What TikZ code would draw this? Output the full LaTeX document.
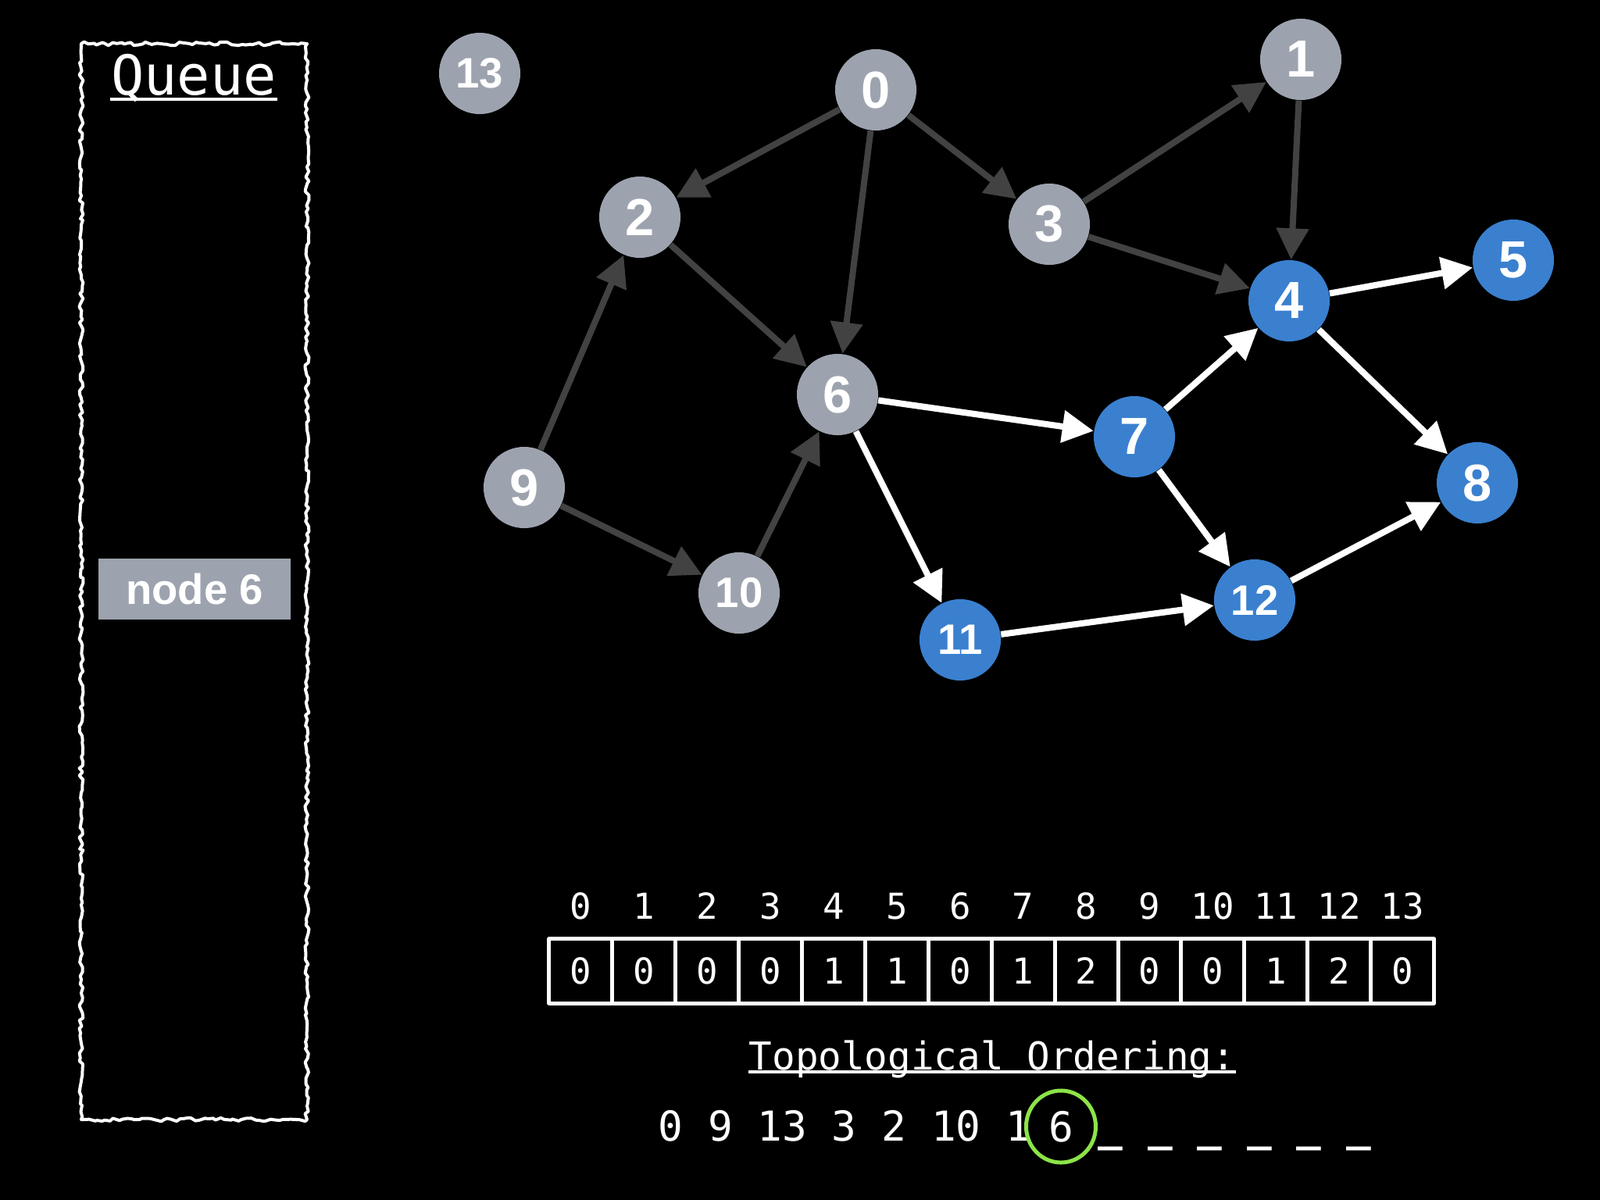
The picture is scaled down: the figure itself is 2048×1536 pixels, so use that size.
\documentclass[tikz,border=0pt]{standalone}
\usepackage{fontspec}
\setmainfont{Liberation Sans}
\setmonofont{DejaVu Sans Mono}
\usetikzlibrary{arrows.meta,decorations.pathmorphing}
\definecolor{nodegray}{RGB}{157,163,174}
\definecolor{nodeblue}{RGB}{58,128,207}
\definecolor{edgegray}{RGB}{66,66,66}
\definecolor{ringgreen}{RGB}{140,228,72}
\begin{document}
\begin{tikzpicture}[x=0.01cm, y=-0.01cm, line join=round, >={Triangle[length=0.4cm, width=0.4cm]},
	vgray/.style={circle, fill=nodegray, text=white, minimum size=1.04cm, inner sep=0pt, font=\fontsize{19}{19}\selectfont\bfseries},
	vgraysm/.style={vgray, font=\fontsize{15.5}{15.5}\selectfont\bfseries},
	vblue/.style={vgray, fill=nodeblue},
	vbluesm/.style={vgraysm, fill=nodeblue},
	gedge/.style={->, draw=edgegray, line width=0.08cm},
	wedge/.style={->, draw=white, line width=0.08cm},
	mono/.style={text=white, inner sep=0pt, font=\fontsize{#1}{#1}\selectfont\ttfamily},
	uline/.style={white, line width=0.035cm},
	cellbox/.style={draw=white, line width=0.05cm, minimum width=0.809cm, minimum height=0.82cm, inner sep=0pt, text=white, font=\fontsize{13}{13}\selectfont\ttfamily}]
	\fill[black] (0,0) rectangle (2048,1536);
	% queue
	\draw[white, line width=0.04cm, decorate, decoration={random steps, segment length=1.5pt, amplitude=0.7pt}]
	(104,56) rectangle (393,1433);
	\node[mono=20, anchor=base] (qtitle) at (248,121) {Queue};
	\draw[uline] ([yshift=-0.06cm]qtitle.base west) -- ([yshift=-0.06cm]qtitle.base east);
	\node[fill=nodegray, text=white, minimum width=2.45cm, minimum height=0.77cm, inner sep=0pt,
	font=\fontsize{15.5}{15.5}\selectfont\bfseries] (qitem) at (249,754) {node 6};
	% graph
	\node[vgraysm] (n13) at (614,94) {13};
	\node[vgray] (n0) at (1121,115) {0};
	\node[vgray] (n1) at (1665,76) {1};
	\node[vgray] (n2) at (819,278) {2};
	\node[vgray] (n3) at (1343,287) {3};
	\node[vblue] (n4) at (1650,385) {4};
	\node[vblue] (n5) at (1937,333) {5};
	\node[vgray] (n6) at (1072,505) {6};
	\node[vblue] (n7) at (1452,559) {7};
	\node[vblue] (n8) at (1891,618) {8};
	\node[vgray] (n9) at (671,624) {9};
	\node[vgraysm] (n10) at (946,759) {10};
	\node[vbluesm] (n11) at (1229,819) {11};
	\node[vbluesm] (n12) at (1606,768) {12};
	\foreach \a/\b in {0/2, 0/6, 0/3, 3/1, 1/4, 3/4, 2/6, 9/2, 9/10, 10/6}
	\draw[gedge] (n\a) -- (n\b);
	\foreach \a/\b in {6/7, 6/11, 7/4, 7/12, 4/5, 4/8, 11/12, 12/8}
	\draw[wedge] (n\a) -- (n\b);
	% in-degree array
	\foreach \i/\v in {0/0, 1/0, 2/0, 3/0, 4/1, 5/1, 6/0, 7/1, 8/2, 9/0, 10/0, 11/1, 12/2, 13/0} {
		\node[cellbox] (cell\i) at ({743.4+80.9*\i},1243) {\v};
		\node[mono=13] (idx\i) at ({743.4+80.9*\i},1160) {\i};
	}
	% ordering
	\node[mono=14, anchor=base] (topo) at (1270,1369) {Topological Ordering:};
	\draw[uline] ([yshift=-0.03cm]topo.base west) -- ([yshift=-0.03cm]topo.base east);
	\node[mono=15, anchor=base west] (order) at (842,1460) {0 9 13 3 2 10 1};
	\node[mono=15] (cur) at (1358,1442) {6};
	\draw[ringgreen, line width=0.05cm] (cur) ellipse (0.445cm and 0.46cm);
	\node[mono=15, anchor=base west, font=\fontsize{15}{15}\selectfont\ttfamily\bfseries] (blanks) at (1405,1460) {\_ \_ \_ \_ \_ \_};
\end{tikzpicture}
\end{document}
